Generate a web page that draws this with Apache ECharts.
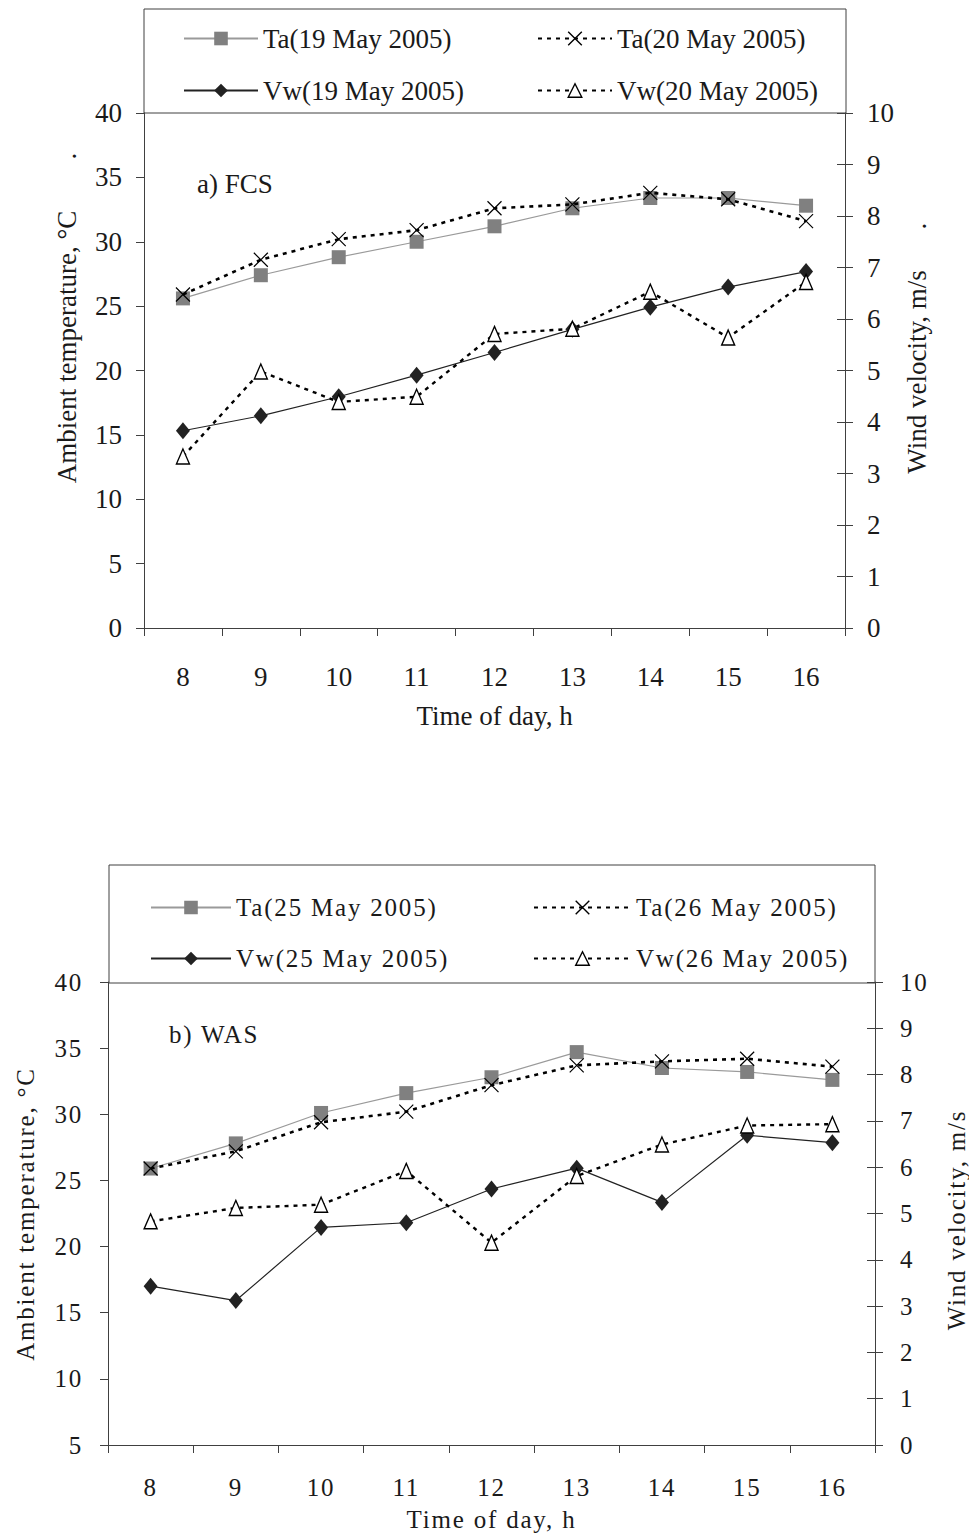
<!DOCTYPE html>
<html>
<head>
<meta charset="utf-8">
<script src="https://cdn.jsdelivr.net/npm/echarts@6/dist/echarts.min.js"></script>
<style>
  html, body { margin: 0; padding: 0; background: #fff; }
  #fcs { position: absolute; left: 0; top: 0; width: 969px; height: 760px; }
  #was { position: absolute; left: 0; top: 760px; width: 969px; height: 779px; }
  #was svg text { letter-spacing: 1.8px; }
</style>
</head>
<body>
<div id="fcs"></div>
<div id="was"></div>
<script>
// Time of day (hours) shared by both panels
const hours = ['8', '9', '10', '11', '12', '13', '14', '15', '16'];

// Panel a) FCS — ambient temperature (°C) and wind velocity (m/s)
const taFcs19 = [25.6, 27.4, 28.8, 30.0, 31.2, 32.6, 33.4, 33.4, 32.8];
const taFcs20 = [25.9, 28.6, 30.2, 30.9, 32.6, 32.9, 33.8, 33.3, 31.6];
const vwFcs19 = [3.83, 4.12, 4.49, 4.91, 5.35, 5.80, 6.23, 6.62, 6.92];
const vwFcs20 = [3.33, 4.98, 4.39, 4.49, 5.71, 5.81, 6.53, 5.64, 6.72];

// Panel b) WAS
const taWas25 = [25.9, 27.8, 30.1, 31.6, 32.8, 34.7, 33.5, 33.2, 32.6];
const taWas26 = [25.9, 27.2, 29.4, 30.2, 32.2, 33.7, 34.0, 34.2, 33.6];
const vwWas25 = [3.43, 3.12, 4.70, 4.80, 5.53, 5.98, 5.24, 6.69, 6.53];
const vwWas26 = [4.83, 5.12, 5.19, 5.92, 4.37, 5.81, 6.49, 6.90, 6.93];

const FONT = 'Liberation Serif, Times New Roman, serif';
const INK = '#1a1a1a';
const AXIS = '#404040';
const CROSS = 'path://M0,0L10,10M10,0L0,10';
const DOTTED = [4, 5];

function lineSeries(name, data, yAxisIndex, kind) {
  const s = { name, type: 'line', data, yAxisIndex, animation: false, silent: true,
              showAllSymbol: true, z: 2 };
  if (kind === 'taSolid') {
    Object.assign(s, { symbol: 'rect', symbolSize: 14,
      itemStyle: { color: '#808080' },
      lineStyle: { color: '#9a9a9a', width: 1.2 } });
  } else if (kind === 'taDotted') {
    Object.assign(s, { symbol: CROSS, symbolSize: 14, z: 4,
      itemStyle: { color: '#000', borderColor: '#000', borderWidth: 1.2 },
      lineStyle: { color: '#000', width: 2.6, type: DOTTED } });
  } else if (kind === 'vwSolid') {
    Object.assign(s, { symbol: 'diamond', symbolSize: [14, 17], z: 3,
      itemStyle: { color: '#222' },
      lineStyle: { color: '#222', width: 1.2 } });
  } else {
    Object.assign(s, { symbol: 'triangle', symbolSize: [13, 15], z: 3,
      itemStyle: { color: '#fff', borderColor: '#000', borderWidth: 1.4 },
      lineStyle: { color: '#000', width: 2.4, type: DOTTED } });
  }
  return s;
}

function buildPanel(p) {
  const text = { fontFamily: FONT, fontSize: p.font, color: INK };
  const rotated = (str, x, y, size) => ({
    type: 'text', x, y, rotation: Math.PI / 2, silent: true,
    style: { text: str, fontFamily: FONT, fontSize: size || p.font, fill: INK,
             align: 'center', verticalAlign: 'middle',
             textAlign: 'center', textVerticalAlign: 'middle' }
  });
  const graphic = [
    { type: 'rect', silent: true, shape: p.legendBox,
      style: { fill: 'none', stroke: AXIS, lineWidth: 1 } },
    rotated(p.leftTitle, p.leftTitlePos[0], p.leftTitlePos[1]),
    rotated(p.rightTitle, p.rightTitlePos[0], p.rightTitlePos[1]),
    { type: 'text', left: p.tagPos[0], top: p.tagPos[1], silent: true,
      style: { text: p.tag, fontFamily: FONT, fontSize: p.font, fill: INK } }
  ];
  (p.dots || []).forEach(d => graphic.push(rotated('.', d[0], d[1])));

  const legendBase = {
    orient: 'vertical', top: p.legendTop, itemGap: p.legendGap, itemHeight: 17,
    textStyle: text, selectedMode: false
  };

  return {
    animation: false,
    backgroundColor: '#fff',
    grid: { left: p.grid.left, top: p.grid.top, width: p.grid.width, height: p.grid.height,
            containLabel: false },
    legend: [
      Object.assign({}, legendBase, { left: p.legendCols[0], itemWidth: p.legendWidths[0],
        data: [p.names[0], p.names[2]], itemStyle: { borderWidth: 0 },
        lineStyle: { width: 2 } }),
      Object.assign({}, legendBase, { left: p.legendCols[1], itemWidth: p.legendWidths[1],
        data: [p.names[1], p.names[3]], itemStyle: { borderWidth: 1.4 } })
    ],
    xAxis: {
      type: 'category', data: hours, boundaryGap: true,
      axisLine: { lineStyle: { color: AXIS, width: 1 } },
      axisTick: { show: true, length: 8, lineStyle: { color: AXIS } },
      axisLabel: Object.assign({ margin: p.xLabelMargin }, text),
      splitLine: { show: false },
      name: 'Time of day, h', nameLocation: 'middle', nameGap: p.xNameGap,
      nameTextStyle: text
    },
    yAxis: [
      { type: 'value', position: 'left', min: p.tempMin, max: 40, interval: 5,
        axisLine: { show: true, lineStyle: { color: AXIS, width: 1 } },
        axisTick: { show: true, length: 8, lineStyle: { color: AXIS } },
        axisLabel: Object.assign({ margin: p.yLabelMargin }, text),
        splitLine: { show: false } },
      { type: 'value', position: 'right', min: 0, max: 10, interval: 1,
        axisLine: { show: true, lineStyle: { color: AXIS, width: 1 } },
        axisTick: { show: true, length: 8, lineStyle: { color: AXIS } },
        axisLabel: Object.assign({ margin: p.yLabelMargin }, text),
        splitLine: { show: false } },
      // inner half of the crossing ticks on the wind-velocity axis
      { type: 'value', position: 'right', min: 0, max: 10, interval: 1,
        axisLine: { show: false },
        axisTick: { show: true, inside: true, length: 8, lineStyle: { color: AXIS } },
        axisLabel: { show: false }, splitLine: { show: false } }
    ],
    graphic,
    series: [
      lineSeries(p.names[0], p.data[0], 0, 'taSolid'),
      lineSeries(p.names[2], p.data[2], 1, 'vwSolid'),
      lineSeries(p.names[1], p.data[1], 0, 'taDotted'),
      lineSeries(p.names[3], p.data[3], 1, 'vwDotted')
    ]
  };
}

const fcs = echarts.init(document.getElementById('fcs'), null, { renderer: 'svg' });
fcs.setOption(buildPanel({
  font: 27,
  names: ['Ta(19 May 2005)', 'Ta(20 May 2005)', 'Vw(19 May 2005)', 'Vw(20 May 2005)'],
  data: [taFcs19, taFcs20, vwFcs19, vwFcs20],
  tempMin: 0,
  grid: { left: 144, top: 113, width: 701, height: 515 },
  legendBox: { x: 144, y: 9, width: 702, height: 104 },
  legendTop: 20, legendGap: 25,
  legendCols: [178, 532], legendWidths: [74, 74],
  xLabelMargin: 35, xNameGap: 74, yLabelMargin: 22,
  leftTitle: 'Ambient temperature, °C', leftTitlePos: [67, 347],
  rightTitle: 'Wind velocity, m/s', rightTitlePos: [917, 372],
  dots: [[67, 156], [917, 226]],
  tag: 'a) FCS', tagPos: [197, 170]
}));

const was = echarts.init(document.getElementById('was'), null, { renderer: 'svg' });
was.setOption(buildPanel({
  font: 25,
  names: ['Ta(25 May 2005)', 'Ta(26 May 2005)', 'Vw(25 May 2005)', 'Vw(26 May 2005)'],
  data: [taWas25, taWas26, vwWas25, vwWas26],
  tempMin: 5,
  grid: { left: 108, top: 222, width: 767, height: 463 },
  legendBox: { x: 109, y: 105, width: 766, height: 118 },
  legendTop: 130, legendGap: 26,
  legendCols: [145, 528], legendWidths: [80, 97],
  xLabelMargin: 30, xNameGap: 62, yLabelMargin: 25,
  leftTitle: 'Ambient temperature, °C', leftTitlePos: [25, 454],
  rightTitle: 'Wind velocity, m/s', rightTitlePos: [956, 460],
  tag: 'b) WAS', tagPos: [169, 262]
}));
</script>
</body>
</html>
